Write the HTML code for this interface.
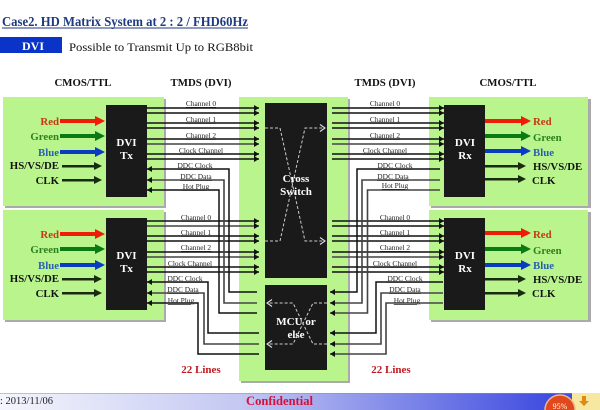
<!DOCTYPE html>
<html><head><meta charset="utf-8"><style>
html,body{margin:0;padding:0;background:#fff;width:600px;height:410px;overflow:hidden}
svg{display:block;filter:blur(.3px)}
text{font-family:"Liberation Serif",serif}
.h{font-size:10.8px;font-weight:bold;fill:#111;text-anchor:middle}
.l{font-size:7.4px;fill:#222;text-anchor:middle;text-decoration:underline}
.b{font-size:10.8px;font-weight:bold;fill:#111}
.w{font-size:11px;font-weight:bold;fill:#fff;text-anchor:middle}
.n{fill:none;stroke:#111;stroke-width:1.5}
.g{fill:none;stroke:#444;stroke-width:1.6}
.d{fill:none;stroke:#ccc;stroke-width:1;stroke-dasharray:3 2}
.c{fill:none;stroke:#ddd;stroke-width:1.1}
</style></head><body>
<svg width="600" height="410" viewBox="0 0 600 410" xmlns="http://www.w3.org/2000/svg">
<defs>
<linearGradient id="ft" x1="0" x2="1" y1="0" y2="0"><stop offset="0" stop-color="#f4f5fc"/><stop offset=".4" stop-color="#c4c8f2"/><stop offset=".92" stop-color="#3f4ce0"/><stop offset="1" stop-color="#3f4ce0"/></linearGradient>
<marker id="a" markerUnits="userSpaceOnUse" markerWidth="6" markerHeight="6" refX="5" refY="3" orient="auto"><path d="M0 0L5 3L0 6z" fill="#111"/></marker>
</defs>

<text x="2" y="26" font-size="13.5" font-weight="bold" fill="#1f3a80" textLength="246" lengthAdjust="spacingAndGlyphs">Case2. HD Matrix System at 2 : 2 / FHD60Hz</text>
<rect x="2" y="27.5" width="246" height="1" fill="#1f3a80"/>
<rect x="0" y="37" width="62" height="16" fill="#0a34c8"/>
<text x="33" y="50" class="w" style="font-size:12px">DVI</text>
<text x="69" y="51" font-size="12" fill="#111" textLength="184" lengthAdjust="spacingAndGlyphs">Possible to Transmit Up to RGB8bit</text>

<text x="83" y="86" class="h">CMOS/TTL</text>
<text x="201" y="86" class="h">TMDS (DVI)</text>
<text x="385" y="86" class="h">TMDS (DVI)</text>
<text x="508" y="86" class="h">CMOS/TTL</text>

<!-- shadows -->
<g fill="#aaa">
<rect x="5" y="99" width="161" height="109"/><rect x="5" y="212" width="161" height="110"/>
<rect x="241" y="99" width="109" height="284"/>
<rect x="431" y="99" width="160" height="109"/><rect x="431" y="212" width="160" height="110"/>
</g>
<g fill="#b9f58c">
<rect x="3" y="97" width="161" height="109"/><rect x="3" y="210" width="161" height="110"/>
<rect x="239" y="97" width="109" height="284"/>
<rect x="429" y="97" width="159" height="109"/><rect x="429" y="210" width="159" height="110"/>
</g>
<rect x="165" y="208" width="74" height="2" fill="#fff"/>
<rect x="350" y="208" width="79" height="2" fill="#fff"/>

<!-- black blocks -->
<g fill="#1a1a1a">
<rect x="106" y="105" width="41" height="92"/><rect x="106" y="218" width="41" height="92"/>
<rect x="444" y="105" width="41" height="92"/><rect x="444" y="218" width="41" height="92"/>
<rect x="265" y="103" width="62" height="175"/><rect x="265" y="285" width="62" height="85"/>
</g>

<!-- TMDS left -->
<path class="n" d="M147 108H259" marker-end="url(#a)"/><path class="n" d="M147 113H259" marker-end="url(#a)"/>
<path class="n" d="M147 123H259" marker-end="url(#a)"/><path class="n" d="M147 128H259" marker-end="url(#a)"/>
<path class="n" d="M147 139H259" marker-end="url(#a)"/><path class="g" d="M147 144H259" marker-end="url(#a)"/>
<path class="n" d="M147 154H259" marker-end="url(#a)"/><path class="n" d="M147 159H259" marker-end="url(#a)"/>
<path class="n" d="M147 221H259" marker-end="url(#a)"/><path class="g" d="M147 226H259" marker-end="url(#a)"/>
<path class="n" d="M147 236H259" marker-end="url(#a)"/><path class="n" d="M147 241H259" marker-end="url(#a)"/>
<path class="n" d="M147 252H259" marker-end="url(#a)"/><path class="g" d="M147 257H259" marker-end="url(#a)"/>
<path class="n" d="M147 267H259" marker-end="url(#a)"/><path class="n" d="M147 272H259" marker-end="url(#a)"/>
<!-- TMDS right -->
<path class="n" d="M332 108H444" marker-end="url(#a)"/><path class="n" d="M332 113H444" marker-end="url(#a)"/>
<path class="n" d="M332 123H444" marker-end="url(#a)"/><path class="n" d="M332 128H444" marker-end="url(#a)"/>
<path class="n" d="M332 139H444" marker-end="url(#a)"/><path class="g" d="M332 144H444" marker-end="url(#a)"/>
<path class="n" d="M332 154H444" marker-end="url(#a)"/><path class="n" d="M332 159H444" marker-end="url(#a)"/>
<path class="n" d="M332 221H444" marker-end="url(#a)"/><path class="n" d="M332 226H444" marker-end="url(#a)"/>
<path class="n" d="M332 236H444" marker-end="url(#a)"/><path class="n" d="M332 241H444" marker-end="url(#a)"/>
<path class="n" d="M332 252H444" marker-end="url(#a)"/><path class="g" d="M332 257H444" marker-end="url(#a)"/>
<path class="n" d="M332 267H444" marker-end="url(#a)"/><path class="n" d="M332 272H444" marker-end="url(#a)"/>

<!-- DDC left -->
<path class="n" d="M257 292H229V169H147" marker-end="url(#a)"/>
<path class="g" d="M257 303H224V180H147" marker-end="url(#a)"/>
<path class="n" d="M257 313H219V190H147" marker-end="url(#a)"/>
<path class="n" d="M259 333H208V282H147" marker-end="url(#a)"/>
<path class="g" d="M259 344H204V293H147" marker-end="url(#a)"/>
<path class="n" d="M259 354H198V303H147" marker-end="url(#a)"/>
<!-- DDC right -->
<path class="n" d="M440 169H357V292H330" marker-end="url(#a)"/>
<path class="g" d="M440 180H362V303H330" marker-end="url(#a)"/>
<path class="g" d="M440 190H367.500V313H330" marker-end="url(#a)"/>
<path class="n" d="M443 282H376V333H330" marker-end="url(#a)"/>
<path class="g" d="M443 293H381V344H330" marker-end="url(#a)"/>
<path class="g" d="M443 303H386V354H330" marker-end="url(#a)"/>

<!-- connector labels -->
<text class="l" x="201" y="106">Channel 0</text><text class="l" x="201" y="122">Channel 1</text><text class="l" x="201" y="138">Channel 2</text><text class="l" x="201" y="153">Clock Channel</text>
<text class="l" x="195" y="168">DDC Clock</text><text class="l" x="196" y="179">DDC Data</text><text class="l" x="196" y="189">Hot Plug</text>
<text class="l" x="196" y="220">Channel 0</text><text class="l" x="196" y="235">Channel 1</text><text class="l" x="196" y="250">Channel 2</text><text class="l" x="190" y="266">Clock Channel</text>
<text class="l" x="185" y="281">DDC Clock</text><text class="l" x="183" y="292">DDC Data</text><text class="l" x="181" y="303">Hot Plug</text>
<text class="l" x="385" y="106">Channel 0</text><text class="l" x="385" y="122">Channel 1</text><text class="l" x="385" y="138">Channel 2</text><text class="l" x="385" y="153">Clock Channel</text>
<text class="l" x="395" y="168">DDC Clock</text><text class="l" x="393" y="179">DDC Data</text><text class="l" x="395" y="188">Hot Plug</text>
<text class="l" x="395" y="220">Channel 0</text><text class="l" x="395" y="235">Channel 1</text><text class="l" x="395" y="250">Channel 2</text><text class="l" x="395" y="266">Clock Channel</text>
<text class="l" x="405" y="281">DDC Clock</text><text class="l" x="405" y="292">DDC Data</text><text class="l" x="407" y="303">Hot Plug</text>

<!-- thick colour arrows -->
<path d="M60 119H95V116L105 121L95 126V123H60z" fill="#f01c08"/>
<path d="M60 134H95V131L105 136L95 141V138H60z" fill="#0a7a14"/>
<path d="M60 150H95V147L105 152L95 157V154H60z" fill="#0a3cc0"/>
<path d="M62 165H94V162L102 166L94 170V167.500H62z" fill="#1a2a10"/>
<path d="M62 179H94V176L102 180L94 184V181.500H62z" fill="#1a2a10"/>
<path d="M60 232H95V229L105 234L95 239V236H60z" fill="#f01c08"/>
<path d="M60 247H95V244L105 249L95 254V251H60z" fill="#0a7a14"/>
<path d="M60 263H95V260L105 265L95 270V267H60z" fill="#0a3cc0"/>
<path d="M62 278H94V275L102 279L94 283V280.500H62z" fill="#1a2a10"/>
<path d="M62 292H94V289L102 293L94 297V294.500H62z" fill="#1a2a10"/>
<path d="M485 119H521V116L531 121L521 126V123H485z" fill="#f01c08"/>
<path d="M485 134H521V131L531 136L521 141V138H485z" fill="#0a7a14"/>
<path d="M485 149H521V146L531 151L521 156V153H485z" fill="#0a3cc0"/>
<path d="M485 165H518V162L526 166L518 170V167.500H485z" fill="#1a2a10"/>
<path d="M485 178H518V175L526 179L518 183V180.500H485z" fill="#1a2a10"/>
<path d="M485 231H521V228L531 233L521 238V235H485z" fill="#f01c08"/>
<path d="M485 247H521V244L531 249L521 254V251H485z" fill="#0a7a14"/>
<path d="M485 263H521V260L531 265L521 270V267H485z" fill="#0a3cc0"/>
<path d="M485 278H518V275L526 279L518 283V280.500H485z" fill="#1a2a10"/>
<path d="M485 292H518V289L526 293L518 297V294.500H485z" fill="#1a2a10"/>

<!-- colour labels -->
<text class="b" x="59" y="125" style="fill:#c43a10" text-anchor="end">Red</text>
<text class="b" x="59" y="140" style="fill:#2f8020" text-anchor="end">Green</text>
<text class="b" x="59" y="156" style="fill:#2a60b0" text-anchor="end">Blue</text>
<text class="b" x="59" y="169" text-anchor="end">HS/VS/DE</text>
<text class="b" x="59" y="184" text-anchor="end">CLK</text>
<text class="b" x="59" y="238" style="fill:#c43a10" text-anchor="end">Red</text>
<text class="b" x="59" y="253" style="fill:#2f8020" text-anchor="end">Green</text>
<text class="b" x="59" y="269" style="fill:#2a60b0" text-anchor="end">Blue</text>
<text class="b" x="59" y="282" text-anchor="end">HS/VS/DE</text>
<text class="b" x="59" y="297" text-anchor="end">CLK</text>
<text class="b" x="533" y="125" style="fill:#c43a10">Red</text>
<text class="b" x="533" y="141" style="fill:#2f8020">Green</text>
<text class="b" x="533" y="156" style="fill:#2a60b0">Blue</text>
<text class="b" x="533" y="170">HS/VS/DE</text>
<text class="b" x="532" y="184">CLK</text>
<text class="b" x="533" y="238" style="fill:#c43a10">Red</text>
<text class="b" x="533" y="254" style="fill:#2f8020">Green</text>
<text class="b" x="533" y="269" style="fill:#2a60b0">Blue</text>
<text class="b" x="533" y="283">HS/VS/DE</text>
<text class="b" x="532" y="297">CLK</text>

<!-- dashed cross switch -->
<path class="d" d="M265 128H280L305 241H324"/>
<path class="d" d="M265 241H280L305 128H324"/>
<path class="c" d="M320 124.500L325 128L320 131.500M320 237.500L325 241L320 244.500"/>
<path class="d" d="M327 303H313L293 344H269"/>
<path class="d" d="M327 344H313L293 303H269"/>
<path class="c" d="M272 299.500L267 303L272 306.500M272 340.500L267 344L272 347.500"/>

<!-- block labels -->
<text class="w" x="126.500" y="146">DVI</text><text class="w" x="126.500" y="159">Tx</text>
<text class="w" x="126.500" y="259">DVI</text><text class="w" x="126.500" y="272">Tx</text>
<text class="w" x="465" y="146">DVI</text><text class="w" x="465" y="159">Rx</text>
<text class="w" x="465" y="259">DVI</text><text class="w" x="465" y="272">Rx</text>
<text class="w" x="296" y="182">Cross</text><text class="w" x="296" y="195">Switch</text>
<text class="w" x="296" y="325">MCU or</text><text class="w" x="296" y="338">else</text>

<text x="201" y="373" font-size="11" font-weight="bold" fill="#c01a20" text-anchor="middle">22 Lines</text>
<text x="391" y="373" font-size="11" font-weight="bold" fill="#c01a20" text-anchor="middle">22 Lines</text>

<!-- footer -->
<rect x="0" y="393" width="600" height="17" fill="url(#ft)"/>
<rect x="0" y="393" width="600" height="1" fill="#8088d8" opacity=".5"/>
<text x="0" y="404" font-size="10.500" fill="#222">: 2013/11/06</text>
<text x="246" y="405" font-size="13" font-weight="bold" fill="#d4103c" textLength="67" lengthAdjust="spacingAndGlyphs">Confidential</text>
<rect x="572" y="393" width="28" height="17" fill="#f6e8a0"/>
<path d="M582 396H586V401H589L584 406L579 401H582z" fill="#e08a10"/>
<circle cx="560" cy="410" r="15" fill="#e0491c" stroke="#f2b48c" stroke-width="1.500"/>
<text x="560" y="409" font-size="8" fill="#fff" text-anchor="middle" font-family="Liberation Sans">95%</text>
</svg>
</body></html>
